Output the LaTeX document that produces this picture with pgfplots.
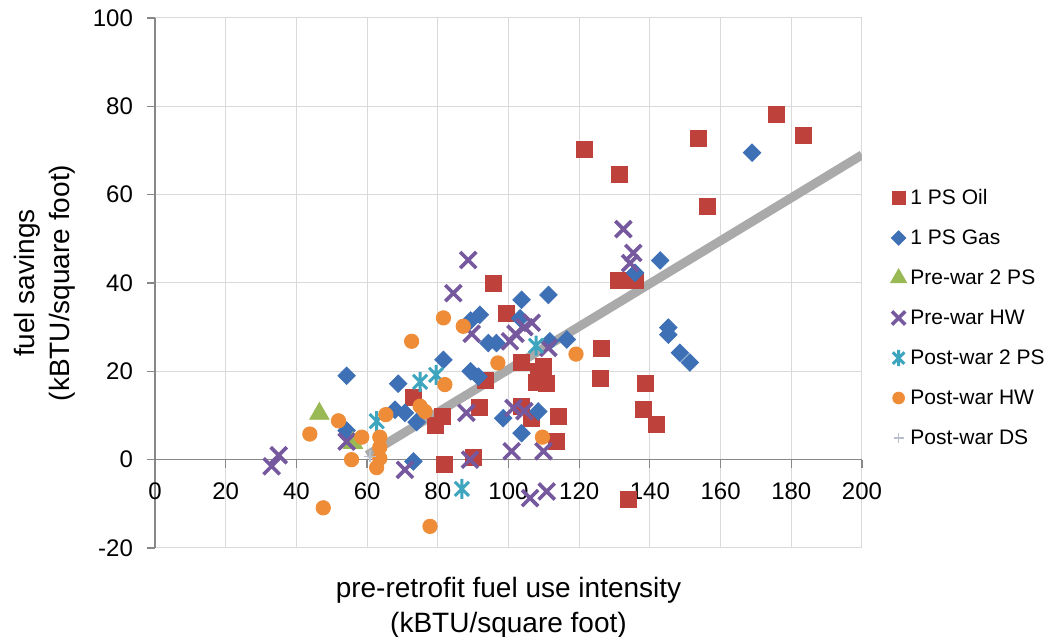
\documentclass[border=0pt]{standalone}
\usepackage{fontspec}
\setmainfont{Liberation Sans}
\usepackage{pgfplots}
\pgfplotsset{compat=1.18}

\definecolor{oilred}{RGB}{190,65,60}
\definecolor{gasblue}{RGB}{62,112,182}
\definecolor{pwgreen}{RGB}{152,185,84}
\definecolor{hwpurple}{RGB}{117,88,158}
\definecolor{psteal}{RGB}{62,165,190}
\definecolor{hworange}{RGB}{238,140,55}
\definecolor{dsgray}{RGB}{185,192,205}
\definecolor{trendgray}{RGB}{170,170,170}

% x with a vertical bar, like the spreadsheet "star" marker
\pgfdeclareplotmark{xbar}{%
  \pgfpathmoveto{\pgfqpoint{-.7071\pgfplotmarksize}{-.7071\pgfplotmarksize}}%
  \pgfpathlineto{\pgfqpoint{.7071\pgfplotmarksize}{.7071\pgfplotmarksize}}%
  \pgfpathmoveto{\pgfqpoint{-.7071\pgfplotmarksize}{.7071\pgfplotmarksize}}%
  \pgfpathlineto{\pgfqpoint{.7071\pgfplotmarksize}{-.7071\pgfplotmarksize}}%
  \pgfpathmoveto{\pgfqpoint{0pt}{-\pgfplotmarksize}}%
  \pgfpathlineto{\pgfqpoint{0pt}{\pgfplotmarksize}}%
  \pgfusepathqstroke}

\begin{document}
\begin{tikzpicture}[font=\fontsize{14}{17.5}\selectfont]
\begin{axis}[
    scale only axis,
    width=353.5pt, height=265pt,
    xmin=0, xmax=200, ymin=-20, ymax=100,
    xtick={0,20,...,200}, ytick={-20,0,...,100},
    axis x line=middle, axis y line=left,
    axis line style={-, draw=black!47, line width=0.6pt},
    hide obscured x ticks=false, hide obscured y ticks=false,
    tick align=outside, major tick length=4pt,
    tick style={draw=black!47, line width=0.6pt},
    grid=major, major grid style={draw=black!15, line width=0.5pt},
    /pgf/number format/assume math mode=true,
    ticklabel style={font=\fontsize{12}{14}\selectfont},
    xticklabel style={yshift=-4pt},
    yticklabel style={xshift=-3.5pt},
    xlabel={pre-retrofit fuel use intensity\\(kBTU/square foot)},
    ylabel={fuel savings\\(kBTU/square foot)},
    xlabel style={at={(axis description cs:0.5,0)}, anchor=center, yshift=-30pt, align=center},
    ylabel style={at={(axis description cs:-0.1563,0.5)}, anchor=center, align=center},
    legend style={draw=none, fill=none, at={(rel axis cs:1.0315,0.6875)}, anchor=north west,
        row sep=10pt, font=\fontsize{10.5}{12}\selectfont,
        nodes={text height=8pt, text depth=2pt, inner sep=0pt},
        /tikz/every even column/.append style={column sep=0pt}},
    legend cell align=left,
    legend image code/.code={\path (5pt,0pt);
        \draw[/tikz/every mark/.append style={scale=0.82}] plot coordinates {(0pt,0pt)};},
]
\coordinate (SW) at (rel axis cs:0,0);

% trend line
\addplot[trendgray, line width=4.5pt, forget plot] coordinates {(60,1) (200,69)};

\addplot[only marks, mark=square*, mark size=4pt, color=oilred] coordinates {
 (175.7,78.1) (183.3,73.4) (153.6,72.7) (121.4,70.2) (131.5,64.5) (156.4,57.3)
 (131.1,40.6) (135.8,40.6) (95.7,39.8) (99.5,33.1) (126.4,25.3) (126.0,18.5)
 (138.6,17.2) (138.1,11.4) (141.9,7.9) (133.9,-8.9) (114.1,9.8) (113.6,4.2)
 (110.8,17.2) (108.0,17.6) (109.9,21.1) (108.5,20.0) (103.7,22.0) (103.7,12.1)
 (106.6,9.4) (93.4,18.0) (91.9,11.9) (81.4,9.8) (79.2,7.7) (73.1,14.0)
 (82.0,-1.0) (90.0,0.4)
};
\addlegendentry{1 PS Oil}

\addplot[only marks, mark=square*, mark size=3.1pt, mark options={rotate=45}, color=gasblue] coordinates {
 (168.9,69.5) (142.9,45.1) (135.8,42.3) (145.2,29.9) (145.2,28.3) (148.5,24.2)
 (151.3,22.0) (111.3,37.3) (103.7,36.2) (103.3,32.0) (91.9,32.8) (89.3,31.5)
 (94.3,26.4) (96.6,26.4) (111.7,26.8) (116.5,27.2) (81.6,22.6) (89.3,20.0)
 (91.5,18.8) (98.5,9.4) (103.7,6.0) (108.4,10.9) (54.2,19.0) (68.8,17.2)
 (67.9,11.3) (70.7,10.6) (74.0,8.5) (73.1,-0.4) (54.2,6.6)
};
\addlegendentry{1 PS Gas}

\addplot[only marks, mark=triangle*, mark size=5.6pt, color=pwgreen] coordinates {
 (46.5,10.4) (56.0,3.8)
};
\addlegendentry{Pre-war 2 PS}

\addplot[only marks, mark=x, mark size=5.7pt, line width=1.8pt, color=hwpurple] coordinates {
 (33.0,-1.5) (35.0,1.0) (54.2,4.1) (70.7,-2.3) (84.4,37.7) (88.6,45.2)
 (89.6,28.5) (88.1,10.6) (89.1,0.0) (100.4,26.8) (102.0,28.5) (106.6,31.0)
 (104.5,30.0) (101.4,11.7) (104.5,11.0) (100.9,1.9) (109.9,1.9) (106.1,-8.7)
 (110.8,-7.2) (111.3,25.3) (132.5,52.2) (135.3,46.8) (134.4,44.5)
};
\addlegendentry{Pre-war HW}

\addplot[only marks, mark=xbar, mark size=5pt, line width=1.5pt, color=psteal] coordinates {
 (62.7,8.7) (75.0,17.6) (79.5,19.2) (86.8,-6.6) (107.8,25.8)
};
\addlegendentry{Post-war 2 PS}

\addplot[only marks, mark=*, mark size=3.6pt, color=hworange] coordinates {
 (43.8,5.8) (47.6,-10.9) (51.9,8.8) (55.6,0.0) (58.5,5.1) (63.6,5.1)
 (63.6,2.8) (63.6,0.3) (62.7,-1.8) (65.3,10.2) (72.6,26.8) (75.0,12.1)
 (76.4,10.9) (77.8,-15.1) (81.6,32.1) (82.0,17.0) (87.2,30.2) (97.0,21.9)
 (109.6,5.1) (119.1,23.9)
};
\addlegendentry{Post-war HW}

\addplot[only marks, mark=+, mark size=3pt, line width=0.6pt, color=dsgray] coordinates {
 (60.8,0.8)
};
\addlegendentry{Post-war DS}
\end{axis}
\pgfresetboundingbox
\path ([shift={(-77.5pt,-44.5pt)}]SW) rectangle ([shift={(445pt,274pt)}]SW);
\end{tikzpicture}
\end{document}
